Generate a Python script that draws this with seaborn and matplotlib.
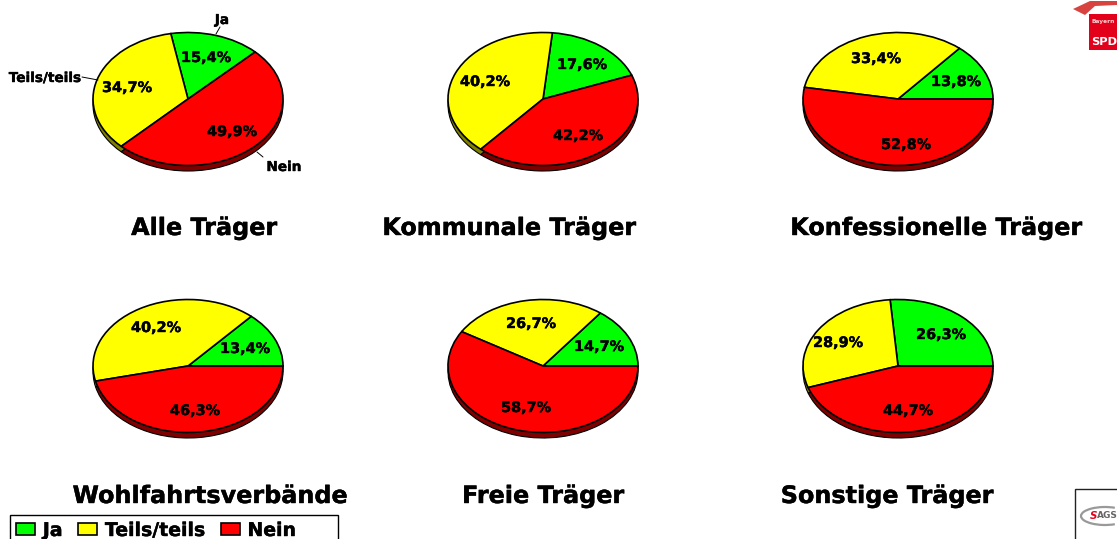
import matplotlib
matplotlib.use("Agg")
import matplotlib.pyplot as plt
import matplotlib.patheffects as pe
from matplotlib.patches import Rectangle, Polygon, Arc
import seaborn as sns

W, H = 1117, 539
sns.set_theme(style="white")
plt.rcParams["font.family"] = ["DejaVu Sans"]
plt.rcParams["font.weight"] = "bold"

categories = ["Ja", "Teils/teils", "Nein"]
titles = ["Alle Träger", "Kommunale Träger", "Konfessionelle Träger",
          "Wohlfahrtsverbände", "Freie Träger", "Sonstige Träger"]
ja = [15.4, 17.6, 13.8, 13.4, 14.7, 26.3]
teils = [34.7, 40.2, 33.4, 40.2, 26.7, 28.9]
nein = [49.9, 42.2, 52.8, 46.3, 58.7, 44.7]

start_angles = [45, 21, 0, 0, 0, 0]
centers = [(188, 99), (543, 99), (898, 99), (188, 366), (543, 366), (898, 366)]
title_pos = [(204, 228), (509, 228), (936, 228), (210, 496), (543, 496), (887, 496)]
label_pos = [
    [(206, 58), (127, 88), (232, 132)],
    [(582, 65), (485, 82), (578, 136)],
    [(956, 82), (876, 59), (906, 145)],
    [(245, 349), (156, 328), (195, 411)],
    [(599, 347), (531, 324), (526, 408)],
    [(941, 335), (838, 343), (908, 411)],
]
RX, RY, DEPTH = 95, 66.5, 5.5
palette = sns.color_palette(["#00ff00", "#ffff00", "#ff0000"])
shade = sns.color_palette(["#008000", "#808000", "#800000"])
bolder = [pe.withStroke(linewidth=0.3, foreground="black")]

fig = plt.figure(figsize=(W / 100, H / 100), dpi=100, facecolor="white")
XM, YM = 1.12, 1.35
legend_handles = None
for i, (cx, cy) in enumerate(centers):
    ax = fig.add_axes([(cx - RX * XM) / W, 1 - (cy + RY * YM) / H,
                       2 * RX * XM / W, 2 * RY * YM / H])
    vals = [ja[i], teils[i], nein[i]]
    ax.pie(vals, colors=shade, startangle=start_angles[i], radius=1,
           center=(0, -DEPTH / RY),
           wedgeprops=dict(edgecolor="black", linewidth=0.8))
    wedges, _ = ax.pie(vals, colors=palette, startangle=start_angles[i], radius=1,
                       wedgeprops=dict(edgecolor="black", linewidth=1.2))
    if legend_handles is None:
        legend_handles = wedges
    ax.set_aspect("auto")
    ax.set_xlim(-XM, XM)
    ax.set_ylim(-YM, YM)
    ax.axis("off")
    for v, (px, py) in zip(vals, label_pos[i]):
        ax.text((px - cx) / RX, (cy - py) / RY, f"{v:.1f}%".replace(".", ","),
                ha="center", va="center", fontsize=10.4, fontweight="bold", color="black",
                path_effects=bolder)
    fig.text(title_pos[i][0] / W, 1 - title_pos[i][1] / H, titles[i], ha="center", va="center",
             fontsize=17.2, fontweight="bold", color="black", path_effects=bolder)

# outer category labels with leader lines on the first pie
callouts = [("Ja", (222, 20), (220, 27), (216, 34)),
            ("Teils/teils", (45, 78), (82, 77), (98, 80)),
            ("Nein", (284, 167), (263, 157), (257, 152))]
for name, tp, a, b in callouts:
    fig.text(tp[0] / W, 1 - tp[1] / H, name, ha="center", va="center", fontsize=9.8,
             fontweight="bold", color="black", path_effects=bolder)
    fig.add_artist(plt.Line2D([a[0] / W, b[0] / W], [1 - a[1] / H, 1 - b[1] / H],
                              color="black", lw=0.7))


def box(x0, y0, x1, y1, **kw):
    fig.add_artist(Rectangle((x0 / W, 1 - y1 / H), (x1 - x0) / W, (y1 - y0) / H,
                             transform=fig.transFigure, **kw))


box(10, 515, 338, 560, facecolor="white", edgecolor="black", linewidth=1.0)
leg = fig.legend(legend_handles, categories, ncol=3, loc="upper left",
                 bbox_to_anchor=(16 / W, 1 - 521 / H), bbox_transform=fig.transFigure,
                 frameon=False, prop=dict(size=13.6, weight="bold"), borderaxespad=0, borderpad=0,
                 handlelength=1.0, handleheight=0.62, handletextpad=0.42, columnspacing=0.82,
                 labelcolor="black")
leg.set_zorder(5)
for t in leg.get_texts():
    t.set_path_effects(bolder)

# corner logos
fig.add_artist(Polygon([(1073 / W, 1 - 9 / H), (1090 / W, 1 - 1 / H), (1117 / W, 1 - 1 / H),
                        (1117 / W, 1 - 5 / H), (1095 / W, 1 - 6 / H), (1085 / W, 1 - 15 / H)],
                       closed=True, transform=fig.transFigure, facecolor="#d8433f", edgecolor="none"))
box(1089, 14, 1117, 50, facecolor="#e2001a", edgecolor="none")
fig.text(1091 / W, 1 - 21 / H, "Bayern", fontsize=4.2, color="#ffd0d0", va="center", ha="left",
         fontweight="bold")
fig.text(1091 / W, 1 - 42 / H, "SPD", fontsize=8.2, color="white", va="center", ha="left",
         fontweight="bold")
box(1075, 489, 1130, 560, facecolor="white", edgecolor="#222222", linewidth=1)
fig.add_artist(Arc((1105 / W, 1 - 516 / H), 48 / W, 18 / H, theta1=60, theta2=300,
                   transform=fig.transFigure, color="#999999", lw=1.6))
fig.text(1090 / W, 1 - 516 / H, "S", fontsize=7.5, color="#e2001a", va="center", ha="left",
         fontweight="bold", style="italic")
fig.text(1097 / W, 1 - 516 / H, "AGS", fontsize=6.5, color="#666666", va="center", ha="left",
         fontweight="bold")

fig.savefig("out.png", dpi=100)
